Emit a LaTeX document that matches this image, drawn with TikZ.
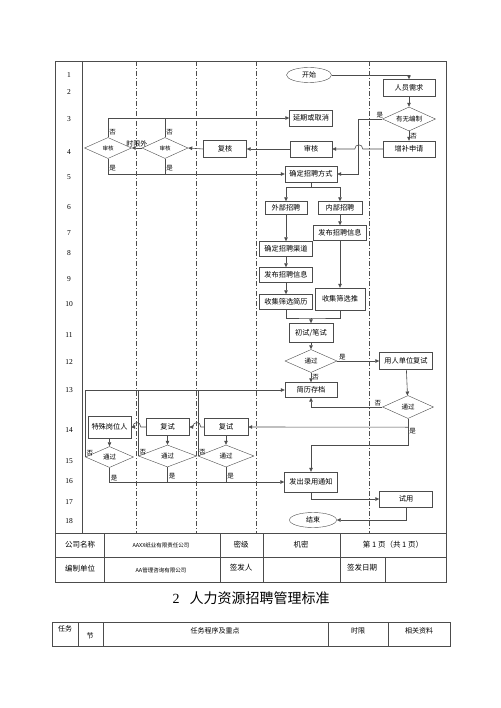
\documentclass[tikz,border=0pt]{standalone}
\usepackage{fontspec}
\setmainfont{Liberation Serif}
\newfontfamily\cjk{Noto Sans CJK SC}
\usetikzlibrary{arrows.meta,positioning,calc,shapes.geometric}
\definecolor{rule}{gray}{0.3}

\begin{document}
\begin{tikzpicture}[x=1pt,y=-1pt,
  box/.style={draw=rule,rectangle,inner sep=1pt,minimum width=52pt,minimum height=16pt,font=\cjk\fontsize{7.2}{8}\selectfont},
  dia/.style={draw=rule,diamond,aspect=2.2,inner sep=0pt,minimum width=52pt,minimum height=23pt,font=\cjk\fontsize{6.5}{7}\selectfont},
  term/.style={draw=rule,ellipse,inner sep=0pt,minimum width=45pt,minimum height=15pt,font=\cjk\fontsize{7}{8}\selectfont},
  ar/.style={-{Triangle[length=4pt,width=3.5pt]},draw=rule,line width=0.6pt},
  ln/.style={draw=rule,line width=0.6pt},
  lane/.style={draw=rule,line width=0.6pt,dash pattern=on 5pt off 2pt on 1pt off 2pt},
  lbl/.style={font=\cjk\fontsize{6.5}{7}\selectfont,inner sep=1pt},
  num/.style={font=\fontsize{7.5}{8}\selectfont},
  cell/.style={font=\cjk\fontsize{7.5}{8}\selectfont},
  small/.style={font=\cjk\fontsize{5.5}{6}\selectfont}
]
\fill[white] (0,0) rectangle (500,708);
\useasboundingbox (0,0) rectangle (500,708);

\draw[draw=rule,line width=0.8pt] (55,61) rectangle (446,582);
\draw[draw=rule,line width=0.8pt] (82,61) -- (82,533);
\foreach \x in {136,196,256,369} \draw[lane] (\x,61) -- (\x,533);
\foreach \n/\y in {1/75,2/92,3/119,4/152,5/177,6/207,7/233,8/253,9/279,10/304,11/335,12/362,13/390,14/430,15/461,16/481,17/502,18/521}
  \node[num] (r\n) at (69,\y) {\n};

\node[term] (start) at (309,75) {开始};
\node[box,minimum height=17pt] (rq) at (409,88) {人员需求};
\node[dia,minimum width=53pt,minimum height=24pt] (bz) at (409,119) {有无编制};
\node[box] (zb) at (409,149) {增补申请};
\node[box,minimum width=42pt] (sh) at (311,149) {审核};
\node[box,minimum width=43pt] (yq) at (311,118) {延期或取消};
\node[box] (fs) at (311,174) {确定招聘方式};
\node[box,minimum width=43pt,minimum height=17pt] (fh) at (225,149) {复核};
\node[dia,small,minimum width=46pt,minimum height=21pt] (d2) at (165,148) {审核};
\node[dia,small,minimum width=47pt,minimum height=21pt] (d1) at (108,148) {审核};

\node[box,minimum width=42pt,minimum height=13pt] (wb) at (286,208) {外部招聘};
\node[box,minimum width=44pt,minimum height=13pt] (nb) at (340,208) {内部招聘};
\node[box,minimum width=53pt,minimum height=15pt] (fb2) at (340,233) {发布招聘信息};
\node[box,minimum width=53pt,minimum height=15pt] (qd) at (286,249) {确定招聘渠道};
\node[box,minimum width=53pt,minimum height=15pt] (fb1) at (286,275) {发布招聘信息};
\node[box,minimum width=53pt,minimum height=15pt] (jl) at (286,302) {收集筛选简历};
\node[box,minimum width=50pt,minimum height=22pt] (tj) at (340,299) {收集筛选推};
\node[box,minimum width=44pt,minimum height=19pt] (cs) at (311,333) {初试/笔试};
\node[dia] (tg) at (311,361) {通过};
\node[box,minimum width=53pt,minimum height=17pt] (yr) at (406,361) {用人单位复试};
\node[box,minimum height=15pt] (da) at (311,390) {简历存档};
\node[dia,minimum width=51pt] (tg2) at (408,407) {通过};

\node[box,minimum width=43pt,minimum height=22pt] (ts) at (109.5,427) {特殊岗位人};
\node[box,minimum width=43pt,minimum height=17pt] (fs1) at (167.5,427) {复试};
\node[box,minimum width=44pt,minimum height=17pt] (fs2) at (226,427) {复试};
\node[dia,minimum width=48pt,minimum height=21pt] (e1) at (109.5,457) {通过};
\node[dia,minimum width=58pt,minimum height=22pt] (e2) at (167.5,456) {通过};
\node[dia,minimum width=56pt,minimum height=22pt] (e3) at (226,456) {通过};
\node[box,minimum width=53pt,minimum height=20pt] (tz) at (311,482) {发出录用通知};
\node[box,minimum width=53pt] (sy) at (406,499) {试用};
\node[term,minimum width=47pt] (end) at (313,520) {结束};

\draw[ar] (start.east) -| (rq.north);
\draw[ar] (rq) -- (bz);
\draw[ar] (bz) -- node[lbl,right]{否} (zb);
\draw[ar] (bz.west) -- node[lbl,above,pos=.1]{是} ++(-24,0) |- (fs.east);
\draw[ar] (zb.west) -- ++(-20,0) .. controls +(0,-5.5) and +(0,-5.5) .. ++(-8,0) -- (sh.east);
\draw[ar] (sh) -- (fh);
\draw[ar] (fh.west) -- (d2.east);
\draw[ar] (d2.west) -- node[lbl,above,font=\cjk\fontsize{7}{8}\selectfont]{时限外} (d1.east);
\draw[ar] (d1.north) |- node[lbl,right,pos=.12]{否} (yq.west);
\draw[ln] (d2.north) -- node[lbl,right,pos=.25]{否} (d2.north |- yq.west);
\draw[ar] (d1.south) |- node[lbl,right,pos=.3]{是} (fs.west);
\draw[ln] (d2.south) -- node[lbl,right,pos=.6]{是} (d2.south |- fs.west);

\draw[ln] (fs.south) -- ++(0,5) coordinate (j1);
\draw[ar] (j1) -| (wb.north);
\draw[ar] (j1) -| (nb.north);
\draw[ar] (nb) -- (fb2);
\draw[ar] (wb) -- (qd);
\draw[ar] (qd) -- (fb1);
\draw[ar] (fb1) -- (jl);
\draw[ar] (fb2) -- (tj);
\coordinate (j2) at (311,318);
\draw[ln] (jl.south) |- (j2) -| (tj.south);
\draw[ar] (j2) -- (cs.north);
\draw[ar] (cs) -- (tg);
\draw[ar] (tg.east) -- node[lbl,above,pos=.12]{是} (yr.west);
\draw[ar] (tg) -- node[lbl,right]{否} (da);
\draw[ar] (yr) -- (tg2);
\draw[ar] (tg2.west) node[lbl,anchor=south east]{否} -| (da.south);
\draw[ln] (tg2.south) -- ++(0,8.5) coordinate (j3) node[lbl,below right]{是};
\draw[ar] (j3) -- (fs2.east);
\draw[ar] (j3) -- ++(0,18) -| (tz.north);

\draw[ar] (fs2.west) -- ++(-3,0) .. controls +(0,-6) and +(0,-6) .. ++(-8,0) -- (fs1.east);
\draw[ar] (fs1.west) -- ++(-5,0) .. controls +(0,-6) and +(0,-6) .. ++(-8,0) -- (ts.east);
\draw[ar] (ts) -- (e1);
\draw[ar] (fs1) -- (e2);
\draw[ar] (fs2) -- (e3);
\draw[ar] (e1.west) node[lbl,anchor=south west]{否} |- (da.west);
\draw[ln] (e2.west) node[lbl,anchor=south west]{否} -- (e2.west |- da.west);
\draw[ln] (e3.west) node[lbl,anchor=south west]{否} -- (e3.west |- da.west);
\draw[ar] (e1.south) |- node[lbl,right,pos=.35]{是} (tz.west);
\draw[ln] (e2.south) -- node[lbl,right,pos=.6]{是} (e2.south |- tz.west);
\draw[ln] (e3.south) -- node[lbl,right,pos=.6]{是} (e3.south |- tz.west);
\draw[ar] (tz.south) |- (sy.west);
\draw[ar] (sy.south) |- (end.east);

\draw[draw=rule,line width=0.8pt] (55,533) -- (446,533) (55,557) -- (446,557);
\draw[draw=rule,line width=0.8pt] (104,533) -- (104,582) (220,533) -- (220,582) (263,533) -- (263,582) (340,533) -- (340,582) (385,557) -- (385,582);
\node[cell] (c11) at (80,545) {公司名称};
\node[cell,font=\cjk\fontsize{5.5}{6}\selectfont] (c12) at (161,545) {AAXX纸业有限责任公司};
\node[cell] (c13) at (241,545) {密级};
\node[cell] (c14) at (301,545) {机密};
\node[cell] (c15) at (393,545) {第 1 页（共 1 页）};
\node[cell] (c21) at (80,569) {编制单位};
\node[cell,font=\cjk\fontsize{5.5}{6}\selectfont] (c22) at (161,570) {AA管理咨询有限公司};
\node[cell] (c23) at (241,568) {签发人};
\node[cell] (c25) at (362,568) {签发日期};

\node (title) at (251,598) {\fontsize{14}{16}\selectfont 2\hspace{10pt}{\cjk 人力资源招聘管理标准}};

\draw[draw=rule,line width=0.8pt] (52,622) rectangle (450,646);
\draw[draw=rule,line width=0.8pt] (78,622) -- (78,646) (103,622) -- (103,646) (328,622) -- (328,646) (388,622) -- (388,646);
\node[cell,font=\cjk\fontsize{7}{8}\selectfont] (h1) at (65,629) {任务};
\node[cell,font=\cjk\fontsize{7}{8}\selectfont] (h2) at (90,636) {节};
\node[cell,font=\cjk\fontsize{7}{8}\selectfont] (h3) at (215,631) {任务程序及重点};
\node[cell,font=\cjk\fontsize{7}{8}\selectfont] (h4) at (358,631) {时限};
\node[cell,font=\cjk\fontsize{7}{8}\selectfont] (h5) at (419,631) {相关资料};
\end{tikzpicture}
\end{document}
